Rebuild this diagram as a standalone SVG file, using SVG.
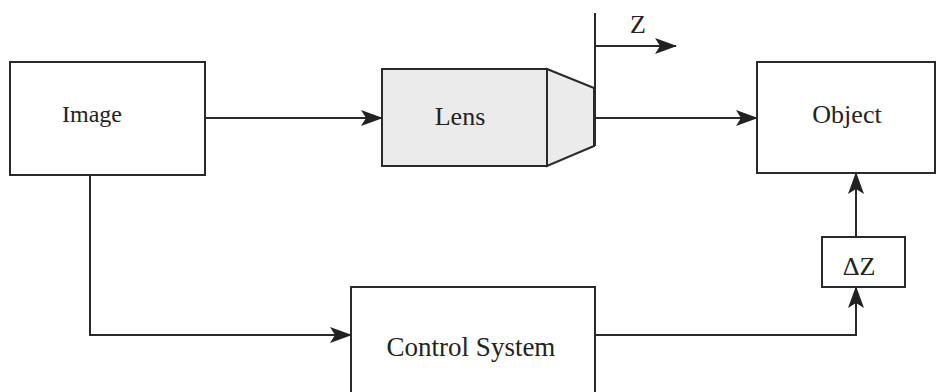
<svg xmlns="http://www.w3.org/2000/svg" width="944" height="392" viewBox="0 0 944 392">
<defs>
<style>
.box{fill:#fff;stroke:#2a2a2a;stroke-width:2}
.lens{fill:#ebebeb;stroke:#2a2a2a;stroke-width:2}
.ln{fill:none;stroke:#2a2a2a;stroke-width:2}
.t{font-family:"Liberation Serif","Times New Roman",serif;font-size:26px;fill:#222;text-anchor:middle}
</style>
<marker id="ah" viewBox="0 0 22 18" refX="21" refY="9" markerWidth="22" markerHeight="18" markerUnits="userSpaceOnUse" orient="auto">
<path d="M0,1 L22,9 L0,17 L5,9 Z" fill="#222"/>
</marker>
</defs>
<rect width="944" height="392" fill="#fff"/>
<g id="connectors">
<line class="ln" x1="205" y1="118" x2="382" y2="118" marker-end="url(#ah)"/>
<line class="ln" x1="595" y1="118" x2="757" y2="118" marker-end="url(#ah)"/>
<polyline class="ln" points="90,175 90,335 351,335" marker-end="url(#ah)"/>
<polyline class="ln" points="595,335 856,335 856,287" marker-end="url(#ah)"/>
<line class="ln" x1="856" y1="237" x2="856" y2="173" marker-end="url(#ah)"/>
<line class="ln" x1="595" y1="13" x2="595" y2="146"/>
<line class="ln" x1="595" y1="46" x2="676" y2="46" marker-end="url(#ah)"/>
<text class="t" x="638" y="33">Z</text>
</g>
<g id="image">
<rect class="box" x="10" y="62" width="195" height="113"/>
<text class="t" x="92" y="122" style="font-size:24px">Image</text>
</g>
<g id="lens">
<polygon class="lens" points="547,69 594,88 594,146 547,166"/>
<rect class="lens" x="382" y="69" width="165" height="97"/>
<text class="t" x="460" y="125">Lens</text>
</g>
<g id="object">
<rect class="box" x="757" y="62" width="178" height="111"/>
<text class="t" x="847" y="123">Object</text>
</g>
<g id="deltaz">
<rect class="box" x="822" y="237" width="83" height="50"/>
<text class="t" x="859" y="275">ΔZ</text>
</g>
<g id="control">
<rect class="box" x="351" y="287" width="244" height="120"/>
<text class="t" x="471" y="356" style="font-size:27px">Control System</text>
</g>
</svg>
